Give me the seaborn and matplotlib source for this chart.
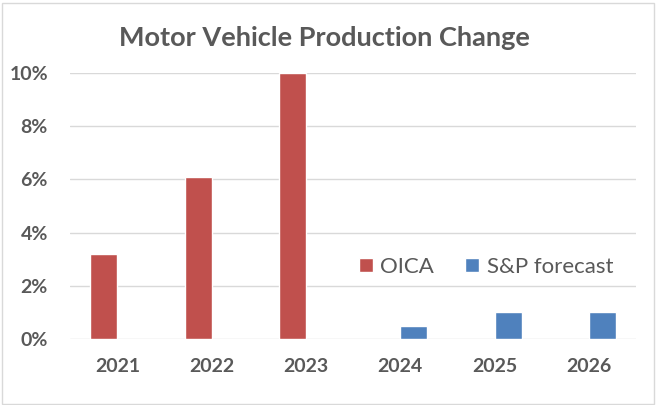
import matplotlib
matplotlib.use("Agg")
import matplotlib.pyplot as plt
from matplotlib.ticker import PercentFormatter
import seaborn as sns
import pandas as pd

# Data
years = ["2021", "2022", "2023", "2024", "2025", "2026"]
sources = ["OICA", "OICA", "OICA", "S&P forecast", "S&P forecast", "S&P forecast"]
change = [0.032, 0.061, 0.100, 0.005, 0.010, 0.010]

series = ["OICA", "S&P forecast"]
colors = ["#C0504D", "#4F81BD"]

df = pd.DataFrame({"year": years, "source": sources, "change": change})

sns.set_theme(style="white")
plt.rcParams['font.family'] = ['Lato', 'DejaVu Sans']

text_col = "#595959"

fig = plt.figure(figsize=(6.62, 4.05), dpi=100)
ax = fig.add_axes([0.106, 0.163, 0.855, 0.657])

sns.barplot(data=df, x="year", y="change", hue="source", hue_order=series,
            order=years, palette=colors, width=0.57, dodge=True,
            saturation=1, ax=ax, legend=True)

ax.set_ylim(0, 0.10)
ax.set_yticks([0, 0.02, 0.04, 0.06, 0.08, 0.10])
ax.yaxis.set_major_formatter(PercentFormatter(1.0, decimals=0))
ax.grid(axis="y", color="#D9D9D9", linewidth=1)
ax.set_axisbelow(True)
for s in ax.spines.values():
    s.set_visible(False)
ax.set_xlabel("")
ax.set_ylabel("")
ax.tick_params(axis="both", length=0, labelsize=14, labelcolor=text_col)
ax.tick_params(axis="y", pad=16)
ax.tick_params(axis="x", pad=14)
for lab in ax.get_xticklabels() + ax.get_yticklabels():
    lab.set_fontweight("bold")

leg = ax.legend(loc="center", bbox_to_anchor=(0.735, 0.27), ncol=2, frameon=False,
                fontsize=16, handlelength=0.6, handleheight=0.6, handletextpad=0.35,
                columnspacing=1.4)
for t in leg.get_texts():
    t.set_color(text_col)

fig.text(0.49, 0.905, "Motor Vehicle Production Change", ha="center", va="center",
         fontsize=19.5, fontweight="bold", color=text_col)

# light border around the chart
fig.patches.append(plt.Rectangle((0.003, 0.003), 0.985, 0.99, transform=fig.transFigure,
                                 fill=False, edgecolor="#D9D9D9", linewidth=1))

fig.savefig("out.png", dpi=100)
